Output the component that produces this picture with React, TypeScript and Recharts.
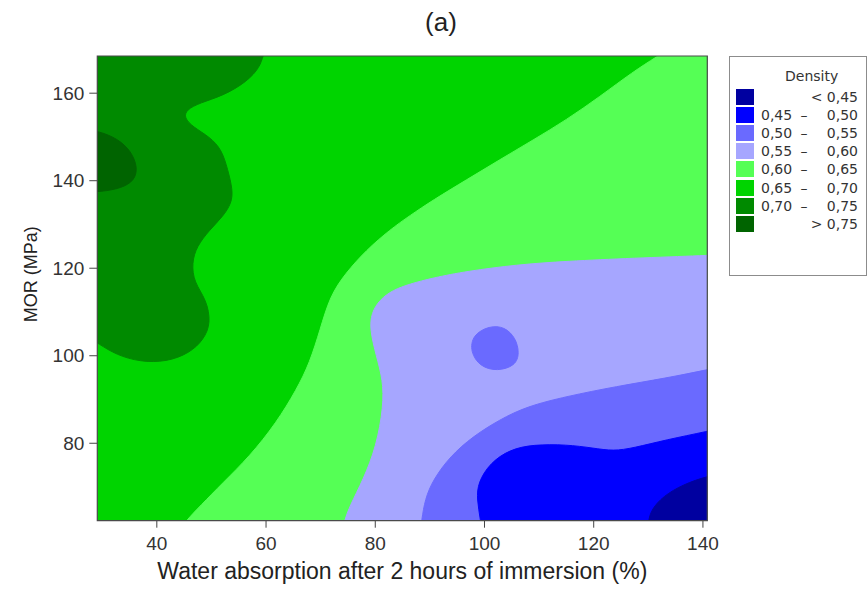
import React from 'react';
import { ComposedChart, Scatter, XAxis, YAxis, ReferenceArea } from 'recharts';

type XY = [number, number];

// axes
const xDomain: [number, number] = [29.1, 140.8];
const yDomain: [number, number] = [62.3, 168.5];
const xTicks = [40, 60, 80, 100, 120, 140];
const yTicks = [80, 100, 120, 140, 160];
const xLabel = 'Water absorption  after 2 hours of immersion (%)';
const yLabel = 'MOR (MPa)';

// legend (lowest density first)
const legendRows = ['< 0,45', '0,45 – 0,50', '0,50 – 0,55', '0,55 – 0,60', '0,60 – 0,65', '0,65 – 0,70', '0,70 – 0,75', '> 0,75'];
const levelColors = ['#0000a0', '#0000ff', '#6a6aff', '#a6a6ff', '#55ff55', '#00d400', '#008a00', '#006400'];

// contour boundaries (x = water absorption, y = MOR)
const darkGreenEdge: XY[] = [
  [60.6, 172], [59.4, 168.5], [58.9, 166.0], [56.5, 162.6], [52.1, 159.4], [47.9, 157.8], [45.4, 156.2],
  [45.0, 154.4], [46.6, 152.3], [49.7, 150.0], [51.9, 147.1], [53.0, 142.5], [53.9, 137.9], [53.7, 134.9],
  [52.1, 131.8], [49.7, 128.8], [47.3, 125.0], [46.4, 121.2], [46.8, 116.8], [49.1, 112.8], [49.9, 107.5],
  [48.6, 103.7], [46.0, 100.6], [41.8, 98.6], [36.9, 98.6], [32.6, 100.2], [29.5, 102.6], [26.5, 105],
];
const darkGreenCorners: XY[] = [[20, 105], [20, 175], [61, 175]];

const darkestEdge: XY[] = [
  [26, 151.8], [29.5, 151.3], [32.8, 149.6], [35.3, 146.8], [36.5, 143.0], [35.9, 140.0], [33.5, 138.3],
  [30.0, 137.5], [26, 137.3],
];
const darkestCorners: XY[] = [[20, 137.3], [20, 151.8]];

const lightGreenEdge: XY[] = [
  [135.5, 171.5], [131.5, 168.3], [127.2, 164.9], [121.1, 159.2], [115.0, 153.9], [108.9, 149.3],
  [102.8, 144.8], [96.7, 140.2], [90.6, 135.6], [86.3, 132.0], [82.7, 128.8], [78.4, 124.2], [74.5, 118.8],
  [71.7, 113.6], [69.9, 106.0], [68.0, 98.4], [65.6, 92.3], [61.9, 84.7], [57.0, 77.0], [52.1, 71.0],
  [47.9, 65.6], [45.4, 62.4], [43.5, 59],
];
const lightGreenCorners: XY[] = [[43.5, 55], [150, 55], [150, 175]];

const lavenderEdge: XY[] = [
  [146, 123.3], [140.7, 122.9], [127.2, 122.3], [115.0, 121.6], [105.9, 120.8], [96.7, 119.3], [90.6, 117.8],
  [86.3, 116.4], [83.2, 115.0], [80.8, 112.8], [79.3, 109.8], [79.0, 106.0], [80.2, 99.9], [81.4, 94.5],
  [81.5, 88.4], [80.2, 79.3], [77.8, 71.7], [75.3, 65.6], [74.4, 62.4], [73.6, 58.5],
];
const lavenderCorners: XY[] = [[73.6, 55], [150, 55], [150, 124]];

const midBlueEdge: XY[] = [
  [146, 98.2], [140.8, 96.8], [133.3, 94.9], [124.2, 93.0], [115.0, 90.7], [107.7, 88.4], [102.8, 85.4],
  [97.9, 81.6], [93.7, 77.0], [90.6, 71.7], [89.1, 67.2], [88.5, 62.4], [88.1, 58.5],
];
const midBlueCorners: XY[] = [[88.1, 55], [150, 55], [150, 99.5]];

const midBlueBlob: XY[] = [
  [100.9, 106.85], [103.7, 106.6], [105.7, 104.1], [106.4, 100.65], [105.7, 97.7], [102.3, 96.45],
  [99.2, 97.5], [97.4, 100.85], [97.8, 104.75],
];

const blueEdge: XY[] = [
  [146, 84.2], [140.8, 82.7], [133.3, 80.8], [127.2, 78.9], [123.6, 78.2], [119.9, 78.9], [115.0, 79.7],
  [108.9, 79.7], [104.7, 78.6], [101.0, 75.5], [98.8, 71.0], [98.6, 67.2], [99.3, 62.4], [99.6, 58.5],
];
const blueCorners: XY[] = [[99.6, 55], [150, 55], [150, 85.5]];

const navyEdge: XY[] = [
  [146, 73.8], [140.8, 72.5], [136.4, 70.6], [132.7, 67.9], [130.6, 64.9], [130.0, 62.4], [129.8, 58.5],
];
const navyCorners: XY[] = [[129.8, 55], [150, 55], [150, 75]];

const baseCorners: XY[] = [[20, 55], [20, 175], [150, 175], [150, 55]];

// corners repeated three times so the smooth closed curve passes through them
const pin = (c: XY): XY[] => [c, c, c];
const region = (edge: XY[], corners: XY[]) =>
  [...edge, ...corners.flatMap(pin)].map(([x, y]) => ({ x, y }));

const layers = [
  { id: 'base', fill: levelColors[5], points: region([], baseCorners) },
  { id: 'darkGreen', fill: levelColors[6], points: region(darkGreenEdge, darkGreenCorners) },
  { id: 'darkest', fill: levelColors[7], points: region(darkestEdge, darkestCorners) },
  { id: 'lightGreen', fill: levelColors[4], points: region(lightGreenEdge, lightGreenCorners) },
  { id: 'lavender', fill: levelColors[3], points: region(lavenderEdge, lavenderCorners) },
  { id: 'midBlue', fill: levelColors[2], points: region(midBlueEdge, midBlueCorners) },
  { id: 'midBlueBlob', fill: levelColors[2], points: region(midBlueBlob, []) },
  { id: 'blue', fill: levelColors[1], points: region(blueEdge, blueCorners) },
  { id: 'navy', fill: levelColors[0], points: region(navyEdge, navyCorners) },
];

const axisFont = 'Liberation Sans, Arial, sans-serif';

function DensityLegend() {
  return (
    <div
      style={{
        position: 'absolute',
        left: 729,
        top: 56,
        width: 138,
        height: 220,
        boxSizing: 'border-box',
        border: '1px solid #8c8c8c',
        background: '#fff',
        fontFamily: 'DejaVu Sans, sans-serif',
        fontSize: 14,
        color: '#333',
      }}
    >
      <div style={{ position: 'absolute', left: 55, top: 10, lineHeight: '18px' }}>Density</div>
      {legendRows.map((row, i) => {
        const parts = row.split(' – ');
        const top = 30.5 + i * 18.2;
        return (
          <div key={row} style={{ position: 'absolute', left: 0, right: 0, top, height: 18, lineHeight: '18px' }}>
            <div style={{ position: 'absolute', left: 6, top: 1, width: 18, height: 16, background: levelColors[i] }} />
            {parts.length === 2 ? (
              <>
                <span style={{ position: 'absolute', left: 31 }}>{parts[0]}</span>
                <span style={{ position: 'absolute', left: 69, width: 10, textAlign: 'center' }}>–</span>
                <span style={{ position: 'absolute', right: 8 }}>{parts[1]}</span>
              </>
            ) : (
              <span style={{ position: 'absolute', right: 8 }}>{row}</span>
            )}
          </div>
        );
      })}
    </div>
  );
}

export default function App() {
  return (
    <div style={{ position: 'absolute', left: 0, top: 0, width: 868, height: 590, background: '#fff' }}>
      <div
        style={{
          position: 'absolute',
          left: 0,
          top: 9,
          width: 882,
          textAlign: 'center',
          fontFamily: axisFont,
          fontSize: 26,
          lineHeight: '26px',
          color: '#222',
        }}
      >
        (a)
      </div>
      <ComposedChart width={868} height={590} margin={{ top: 56, right: 160.7, bottom: 0, left: 0 }}>
        <XAxis
          type="number"
          dataKey="x"
          domain={xDomain}
          ticks={xTicks}
          interval={0}
          allowDataOverflow
          height={69.3}
          axisLine={false}
          tickSize={7}
          tickMargin={9}
          tickLine={{ stroke: '#444' }}
          tick={{ fontSize: 19, fill: '#333', fontFamily: axisFont }}
          label={{
            value: xLabel,
            position: 'insideBottom',
            offset: 11,
            fill: '#222',
            fontSize: 23,
            fontFamily: axisFont,
            style: { whiteSpace: 'pre' },
          }}
        />
        <YAxis
          type="number"
          dataKey="y"
          domain={yDomain}
          ticks={yTicks}
          interval={0}
          allowDataOverflow
          width={97.3}
          axisLine={false}
          tickSize={8}
          tickMargin={5}
          tickLine={{ stroke: '#444' }}
          tick={{ fontSize: 19, fill: '#333', fontFamily: axisFont }}
          label={{
            content: (props: any) => {
              const vb = props.viewBox || { y: 56, height: 465 };
              const cx = 31.5;
              const cy = vb.y + vb.height / 2 - 14;
              return (
                <text
                  x={cx}
                  y={cy}
                  transform={`rotate(-90 ${cx} ${cy})`}
                  textAnchor="middle"
                  dominantBaseline="central"
                  fill="#222"
                  fontSize={18}
                  fontFamily={axisFont}
                >
                  {yLabel}
                </text>
              );
            },
          }}
        />
        {layers.map((l) => (
          <Scatter
            key={l.id}
            name={l.id}
            data={l.points}
            fill={l.fill}
            line={{ fill: l.fill, stroke: l.fill, strokeWidth: 1 }}
            lineJointType="basisClosed"
            shape={() => <g />}
            legendType="none"
            isAnimationActive={false}
          />
        ))}
        <ReferenceArea
          x1={xDomain[0]}
          x2={xDomain[1]}
          y1={yDomain[0]}
          y2={yDomain[1]}
          fill="none"
          fillOpacity={0}
          stroke="#4a4a4a"
          strokeWidth={1.2}
          zIndex={2000}
        />
      </ComposedChart>
      <DensityLegend />
    </div>
  );
}
